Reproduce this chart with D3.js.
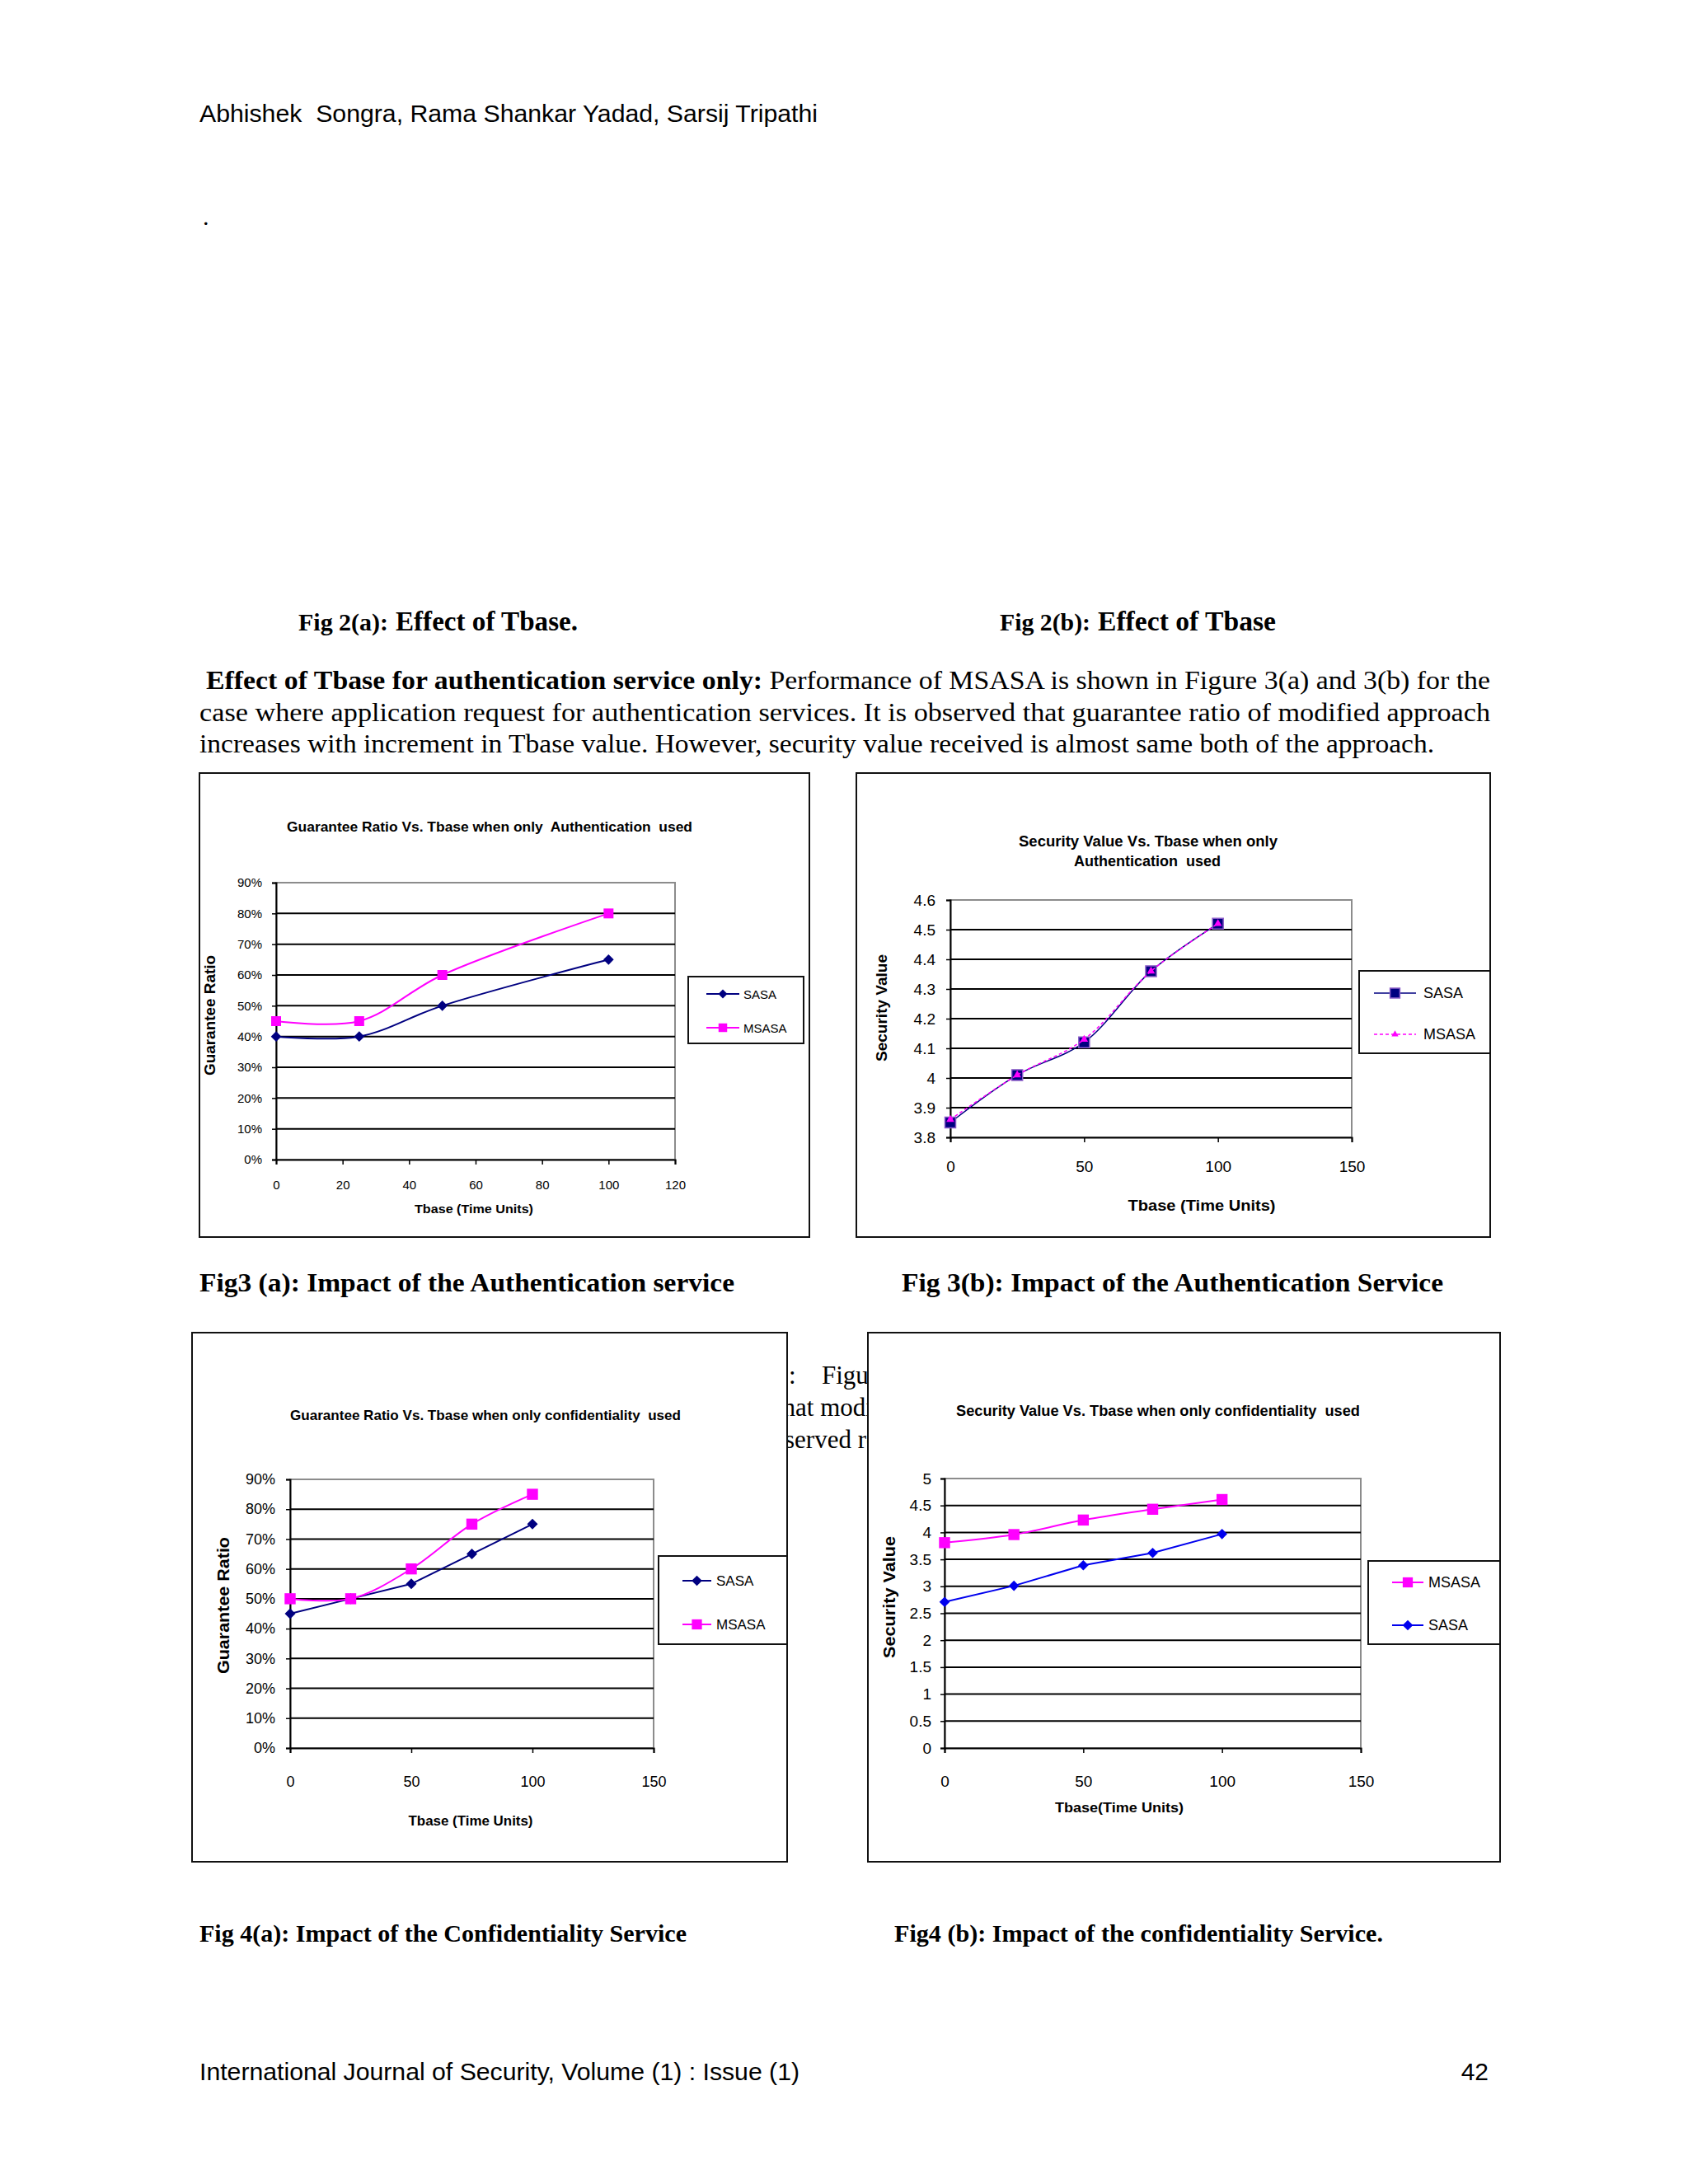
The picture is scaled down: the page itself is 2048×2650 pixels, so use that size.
<!DOCTYPE html>
<html><head><meta charset="utf-8">
<script src="https://cdn.jsdelivr.net/npm/d3@7"></script>
<style>
html,body{margin:0;padding:0;background:#fff;}
svg{display:block;}
text{white-space:pre;}
</style></head>
<body>
<svg id="page" width="2048" height="2650"></svg>
<script>
// ---------------- DATA ----------------
const seriesNames = ["SASA", "MSASA"];

// Fig 3(a): Guarantee ratio, authentication only
const tbaseAuthGR = [0, 25, 50, 100];
const grAuthSASA  = [0.40, 0.40, 0.50, 0.65];
const grAuthMSASA = [0.45, 0.45, 0.60, 0.80];

// Fig 3(b): Security value, authentication only
const tbaseAuthSV = [0, 25, 50, 75, 100];
const svAuthSASA  = [3.85, 4.01, 4.12, 4.36, 4.52];
const svAuthMSASA = [3.86, 4.01, 4.13, 4.36, 4.52];

// Fig 4(a): Guarantee ratio, confidentiality only
const tbaseConfGR = [0, 25, 50, 75, 100];
const grConfSASA  = [0.45, 0.50, 0.55, 0.65, 0.75];
const grConfMSASA = [0.50, 0.50, 0.60, 0.75, 0.85];

// Fig 4(b): Security value, confidentiality only
const tbaseConfSV = [0, 25, 50, 75, 100];
const svConfMSASA = [3.81, 3.96, 4.23, 4.43, 4.61];
const svConfSASA  = [2.71, 3.01, 3.39, 3.62, 3.97];

// tick labels
const xTicks120 = [0, 20, 40, 60, 80, 100, 120];
const xTicks150 = [0, 50, 100, 150];
const yTicksGR  = [0, 0.1, 0.2, 0.3, 0.4, 0.5, 0.6, 0.7, 0.8, 0.9];
const yTicksSVa = [3.8, 3.9, 4, 4.1, 4.2, 4.3, 4.4, 4.5, 4.6];
const yTicksSVb = [0, 0.5, 1, 1.5, 2, 2.5, 3, 3.5, 4, 4.5, 5];

// page text
const headerText = "Abhishek  Songra, Rama Shankar Yadad, Sarsij Tripathi";
const footerText = "International Journal of Security, Volume (1) : Issue (1)";
const pageNo = "42";
const paraLines = [
  [{t:"Effect of Tbase for authentication service only: ", b:true}, {t:"Performance of MSASA is shown in Figure 3(a) and 3(b) for the", b:false}],
  [{t:"case where application request for authentication services. It is observed that guarantee ratio of modified approach", b:false}],
  [{t:"increases with increment in Tbase value. However, security value received is almost same both of the approach.", b:false}]
];

// ---------------- RENDER ----------------
const SANS = "'Liberation Sans', Arial, Helvetica, sans-serif";
const SERIF = "'Liberation Serif', 'Times New Roman', serif";
const svg = d3.select("#page");
svg.append("rect").attr("width", 2048).attr("height", 2650).attr("fill", "#fff");

function txt(parent, s, x, y, o) {
  o = o || {};
  const t = parent.append("text").attr("x", x).attr("y", y)
    .attr("font-family", o.family || SANS).attr("font-size", o.size || 16)
    .attr("font-weight", o.bold ? "bold" : "normal")
    .attr("text-anchor", o.anchor || "start")
    .attr("dominant-baseline", "central")
    .attr("fill", o.fill || "#000")
    .text(s);
  if (o.w) t.attr("textLength", o.w).attr("lengthAdjust", "spacingAndGlyphs");
  if (o.rotate) t.attr("transform", `rotate(${o.rotate},${x},${y})`);
  return t;
}

function paraLine(parent, segs, x0, x1, y, size) {
  const t = parent.append("text").attr("x", x0).attr("y", y)
    .attr("font-family", SERIF).attr("font-size", size)
    .attr("dominant-baseline", "central")
    .attr("textLength", x1 - x0).attr("lengthAdjust", "spacingAndGlyphs");
  segs.forEach(s => t.append("tspan").attr("font-weight", s.b ? "bold" : "normal").text(s.t));
}

// header / footer
txt(svg, headerText, 242, 137, {size: 30, w: 750});
txt(svg, ".", 246, 262, {size: 30, family: SERIF});
txt(svg, footerText, 242, 2513, {size: 30, w: 728});
txt(svg, pageNo, 1806, 2513, {size: 30, anchor: "end"});

// Fig 2 captions
txt(svg, "Fig 2(a):", 362, 754, {size: 30, bold: true, family: SERIF, w: 109});
txt(svg, "Effect of Tbase.", 480, 754, {size: 33, bold: true, family: SERIF, w: 221});
txt(svg, "Fig 2(b):", 1213, 754, {size: 30, bold: true, family: SERIF, w: 110});
txt(svg, "Effect of Tbase", 1332, 754, {size: 33, bold: true, family: SERIF, w: 216});

// paragraph
paraLine(svg, paraLines[0], 250, 1808, 825, 32);
paraLine(svg, paraLines[1], 242, 1808, 864, 32);
paraLine(svg, paraLines[2], 242, 1740, 902, 32);

// partially hidden text between lower charts (covered by chart boxes)
txt(svg, ":", 957, 1668, {size: 31, family: SERIF});
txt(svg, "Figure", 997, 1668, {size: 31, family: SERIF});
txt(svg, "that modified", 941, 1707, {size: 31, family: SERIF});
txt(svg, "observed received", 921, 1746, {size: 31, family: SERIF});

// figure captions
txt(svg, "Fig3 (a): Impact of the Authentication service", 242, 1556, {size: 32, bold: true, family: SERIF, w: 649});
txt(svg, "Fig 3(b): Impact of the Authentication Service", 1094, 1556, {size: 32, bold: true, family: SERIF, w: 657});
txt(svg, "Fig 4(a): Impact of the Confidentiality Service", 242, 2346, {size: 29, bold: true, family: SERIF, w: 591});
txt(svg, "Fig4 (b): Impact of the confidentiality Service.", 1085, 2346, {size: 29, bold: true, family: SERIF, w: 593});

function markerPath(type, size) {
  return d3.symbol(type === "triangle" ? d3.symbolTriangle : d3.symbolSquare, size)();
}
function drawMarker(g, type, size, px, py, fill, stroke) {
  g.append("path")
    .attr("transform", `translate(${px},${py})${type === "diamond" ? " rotate(45)" : ""}`)
    .attr("d", markerPath(type, size))
    .attr("fill", fill).attr("stroke", stroke || "none").attr("stroke-width", stroke ? 1.5 : 0);
}

function chart(c) {
  const g = svg.append("g");
  g.append("rect").attr("x", c.box[0]).attr("y", c.box[1])
    .attr("width", c.box[2] - c.box[0]).attr("height", c.box[3] - c.box[1])
    .attr("fill", "#fff").attr("stroke", "#111").attr("stroke-width", 2);

  const x = d3.scaleLinear().domain(c.xDomain).range([c.plot[0], c.plot[2]]);
  const y = d3.scaleLinear().domain(c.yDomain).range([c.plot[3], c.plot[1]]);

  // plot area border (gray)
  g.append("rect").attr("x", c.plot[0]).attr("y", c.plot[1])
    .attr("width", c.plot[2] - c.plot[0]).attr("height", c.plot[3] - c.plot[1])
    .attr("fill", "#fff").attr("stroke", "#8c8c8c").attr("stroke-width", 2);

  // gridlines
  g.append("g").selectAll("line")
    .data(c.yTicks.filter(t => t > c.yDomain[0] && t < c.yDomain[1]))
    .join("line")
    .attr("x1", c.plot[0]).attr("x2", c.plot[2])
    .attr("y1", d => y(d)).attr("y2", d => y(d))
    .attr("stroke", "#000").attr("stroke-width", 2);

  // axes
  const tk = 5;
  const ya = d3.axisLeft(y).tickValues(c.yTicks).tickSize(tk).tickPadding(c.yGap - tk).tickFormat(c.yFmt);
  const yg = g.append("g").attr("transform", `translate(${c.plot[0]},0)`).call(ya);
  const xa = d3.axisBottom(x).tickValues(c.xTicks).tickSize(tk + 1)
    .tickPadding(c.xOff - 0.35 * c.tickSize - tk - 1).tickFormat(d3.format("d"));
  const xg = g.append("g").attr("transform", `translate(0,${c.plot[3]})`).call(xa);
  [yg, xg].forEach(a => {
    a.attr("font-family", SANS).attr("font-size", c.tickSize);
    a.select(".domain").attr("stroke", "#000").attr("stroke-width", 2);
    a.selectAll(".tick line").attr("stroke", "#000").attr("stroke-width", 1.5);
    a.selectAll(".tick text").attr("fill", "#000");
  });

  // series
  c.series.forEach(s => {
    const pts = s.x.map((xv, i) => [x(xv), y(s.y[i])]);
    const line = d3.line().curve(s.smooth ? d3.curveCatmullRom.alpha(0.5) : d3.curveLinear);
    g.append("path").attr("d", line(pts)).attr("fill", "none")
      .attr("stroke", s.color).attr("stroke-width", s.width || 2)
      .attr("stroke-dasharray", s.dash || null);
    pts.forEach(p => drawMarker(g, s.marker, s.msize, p[0], p[1], s.mfill || s.color, s.mstroke));
  });

  // titles
  c.title.forEach(t => txt(g, t.t, t.x, t.y, {size: c.titleSize, bold: true, anchor: "middle", w: t.w}));
  txt(g, c.xTitle.t, c.xTitle.x, c.xTitle.y, {size: c.xTitle.size, bold: true, anchor: "middle", w: c.xTitle.w});
  txt(g, c.yTitle.t, c.yTitle.x, c.yTitle.y, {size: c.yTitle.size, bold: true, anchor: "middle", w: c.yTitle.w, rotate: -90});

  // legend
  const L = c.legend;
  g.append("rect").attr("x", L.box[0]).attr("y", L.box[1])
    .attr("width", L.box[2] - L.box[0]).attr("height", L.box[3] - L.box[1])
    .attr("fill", "#fff").attr("stroke", "#111").attr("stroke-width", 2);
  L.items.forEach((it, i) => {
    const s = c.series.find(d => d.name === it);
    const ly = L.ys[i];
    g.append("line").attr("x1", L.line[0]).attr("x2", L.line[1]).attr("y1", ly).attr("y2", ly)
      .attr("stroke", s.color).attr("stroke-width", s.width || 2).attr("stroke-dasharray", s.dash || null);
    drawMarker(g, s.marker, s.lmsize || s.msize, (L.line[0] + L.line[1]) / 2, ly, s.mfill || s.color, s.mstroke);
    txt(g, it, L.textX, ly, {size: L.size});
  });
}

const NAVY = "#000080", MAG = "#ff00ff", BLUE = "#0000ee";
const pct = d3.format(".0%");

// Fig 3(a)
chart({
  box: [242, 938, 982, 1501], plot: [335, 1071, 819, 1407],
  xDomain: [0, 120], xTicks: xTicks120, yDomain: [0, 0.9], yTicks: yTicksGR, yFmt: pct,
  tickSize: 15, xOff: 31, yGap: 17,
  titleSize: 17, title: [{t: "Guarantee Ratio Vs. Tbase when only  Authentication  used", x: 594, y: 1003, w: 492}],
  xTitle: {t: "Tbase (Time Units)", x: 575, y: 1466, w: 144, size: 15},
  yTitle: {t: "Guarantee Ratio", x: 254, y: 1232, w: 146, size: 19},
  series: [
    {name: seriesNames[0], x: tbaseAuthGR, y: grAuthSASA, color: NAVY, smooth: true, marker: "diamond", msize: 80, lmsize: 60},
    {name: seriesNames[1], x: tbaseAuthGR, y: grAuthMSASA, color: MAG, smooth: true, marker: "square", msize: 144, lmsize: 110}
  ],
  legend: {box: [835, 1185, 975, 1266], items: ["SASA", "MSASA"], ys: [1206, 1247], line: [857, 897], textX: 902, size: 15}
});

// Fig 3(b)
chart({
  box: [1039, 938, 1808, 1501], plot: [1153, 1092, 1640, 1380],
  xDomain: [0, 150], xTicks: xTicks150, yDomain: [3.8, 4.6], yTicks: yTicksSVa, yFmt: d => String(d),
  tickSize: 19, xOff: 35, yGap: 18,
  titleSize: 18, title: [
    {t: "Security Value Vs. Tbase when only", x: 1393, y: 1021, w: 314},
    {t: "Authentication  used", x: 1392, y: 1045, w: 178}],
  xTitle: {t: "Tbase (Time Units)", x: 1458, y: 1462, w: 179, size: 19},
  yTitle: {t: "Security Value", x: 1069, y: 1223, w: 130, size: 19},
  series: [
    {name: seriesNames[0], x: tbaseAuthSV, y: svAuthSASA, color: NAVY, smooth: true, width: 1.5, marker: "square", msize: 170, mstroke: "#8a5cc8", lmsize: 140},
    {name: seriesNames[1], x: tbaseAuthSV, y: svAuthMSASA, color: MAG, smooth: true, width: 1.5, dash: "4,3", marker: "triangle", msize: 40, lmsize: 30}
  ],
  legend: {box: [1649, 1178, 1808, 1278], items: ["SASA", "MSASA"], ys: [1205, 1255], line: [1667, 1718], textX: 1727, size: 18}
});

// Fig 4(a)
chart({
  box: [233, 1617, 955, 2259], plot: [352, 1795, 793, 2121],
  xDomain: [0, 150], xTicks: xTicks150, yDomain: [0, 0.9], yTicks: yTicksGR, yFmt: pct,
  tickSize: 18, xOff: 41, yGap: 18,
  titleSize: 17, title: [{t: "Guarantee Ratio Vs. Tbase when only confidentiality  used", x: 589, y: 1717, w: 474}],
  xTitle: {t: "Tbase (Time Units)", x: 571, y: 2209, w: 151, size: 16},
  yTitle: {t: "Guarantee Ratio", x: 270, y: 1948, w: 166, size: 21},
  series: [
    {name: seriesNames[0], x: tbaseConfGR, y: grConfSASA, color: NAVY, smooth: false, marker: "diamond", msize: 85, lmsize: 80},
    {name: seriesNames[1], x: tbaseConfGR, y: grConfMSASA, color: MAG, smooth: true, marker: "square", msize: 180, lmsize: 150}
  ],
  legend: {box: [799, 1888, 955, 1995], items: ["SASA", "MSASA"], ys: [1918, 1971], line: [828, 863], textX: 869, size: 17}
});

// Fig 4(b)
chart({
  box: [1053, 1617, 1820, 2259], plot: [1146, 1794, 1651, 2121],
  xDomain: [0, 150], xTicks: xTicks150, yDomain: [0, 5], yTicks: yTicksSVb, yFmt: d => String(d),
  tickSize: 19, xOff: 40, yGap: 16,
  titleSize: 18, title: [{t: "Security Value Vs. Tbase when only confidentiality  used", x: 1405, y: 1712, w: 490}],
  xTitle: {t: "Tbase(Time Units)", x: 1358, y: 2193, w: 156, size: 17},
  yTitle: {t: "Security Value", x: 1078, y: 1938, w: 148, size: 21},
  series: [
    {name: seriesNames[1], x: tbaseConfSV, y: svConfMSASA, color: MAG, smooth: true, marker: "square", msize: 180, lmsize: 150},
    {name: seriesNames[0], x: tbaseConfSV, y: svConfSASA, color: BLUE, smooth: false, marker: "diamond", msize: 80, lmsize: 80}
  ],
  legend: {box: [1660, 1894, 1820, 1995], items: ["MSASA", "SASA"], ys: [1920, 1972], line: [1689, 1727], textX: 1733, size: 18}
});
</script>
</body></html>
